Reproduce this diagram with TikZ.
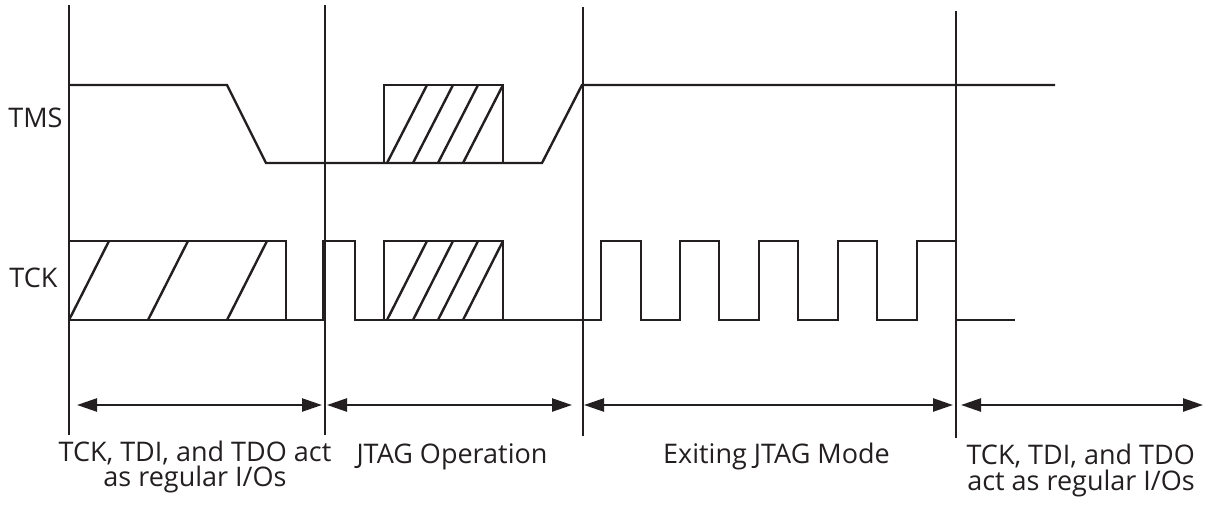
\documentclass[tikz,border=0pt]{standalone}
\usepackage{fontspec}
\setmainfont{Open Sans}
\usetikzlibrary{arrows.meta}
\definecolor{ink}{HTML}{231F20}
\begin{document}
\begin{tikzpicture}[x=1pt,y=-1pt,
  sig/.style={draw=ink, line width=2.4pt, line join=miter},
  sepline/.style={draw=ink, line width=2pt},
  span/.style={draw=ink, line width=2.4pt,
    {Triangle[length=20pt,width=13pt]}-{Triangle[length=20pt,width=13pt]}},
  lbl/.style={text=ink, font=\fontsize{27}{23}\selectfont, inner sep=0pt}]
\useasboundingbox (0,0) rectangle (1207,506);
% separator lines
\coordinate (v1t) at (69,5);   \coordinate (v1b) at (69,435);
\coordinate (v2t) at (325,5);  \coordinate (v2b) at (325,435);
\coordinate (v3t) at (583,7);  \coordinate (v3b) at (583,436);
\coordinate (v4t) at (956,11); \coordinate (v4b) at (956,438);
\draw[sepline] (v1t) -- (v1b);
\draw[sepline] (v2t) -- (v2b);
\draw[sepline] (v3t) -- (v3b);
\draw[sepline] (v4t) -- (v4b);
% TMS
\draw[sig] (69,85) -- (227,85) -- (266,163) -- (542,163) -- (582,85) -- (1055,85);
\draw[sig] (384,163) rectangle (503,85);
\foreach \b in {387,413,438,463} \draw[sig] (\b,163) -- ++(40,-78);
% TCK
\draw[sig] (69,241) rectangle (286,320);
\foreach \b in {69,148,227} \draw[sig] (\b,320) -- ++(40,-79);
\draw[sig] (69,320) -- (323,320) -- (323,241) -- (355,241) -- (355,320) -- (601,320)
  -- (601,241) -- (641,241) -- (641,320) -- (680,320)
  -- (680,241) -- (719,241) -- (719,320) -- (759,320)
  -- (759,241) -- (798,241) -- (798,320) -- (838,320)
  -- (838,241) -- (877,241) -- (877,320) -- (917,320)
  -- (917,241) -- (956,241) -- (956,320) -- (1015,320);
\draw[sig] (384,320) rectangle (503,241);
\foreach \b in {387,413,438,463} \draw[sig] (\b,320) -- ++(40,-79);
% signal names
\node[lbl, anchor=base] (tms) at (35.5,127) {TMS};
\node[lbl, anchor=base] (tck) at (33.5,287) {TCK};
% spans
\coordinate (a1l) at (77,405);  \coordinate (a1r) at (322,405);
\coordinate (a2l) at (327,405); \coordinate (a2r) at (572,405);
\coordinate (a3l) at (584,405); \coordinate (a3r) at (953,405);
\coordinate (a4l) at (961,405); \coordinate (a4r) at (1203,405);
\draw[span] (a1l) -- (a1r);
\draw[span] (a2l) -- (a2r);
\draw[span] (a3l) -- (a3r);
\draw[span] (a4l) -- (a4r);
% phase labels (base anchor of a two-line node is its last line)
\node[lbl, align=center, anchor=base] (p1) at (195,486) {TCK, TDI, and TDO act\\as regular I/Os};
\node[lbl, anchor=base] (p2) at (452,463) {JTAG Operation};
\node[lbl, anchor=base west] (p3) at (663,463) {Exiting JTAG Mode};
\node[lbl, align=right, anchor=base east, font=\fontsize{27}{26}\selectfont] (p4) at (1195,490) {TCK, TDI, and TDO\\act as regular I/Os};
\end{tikzpicture}
\end{document}
